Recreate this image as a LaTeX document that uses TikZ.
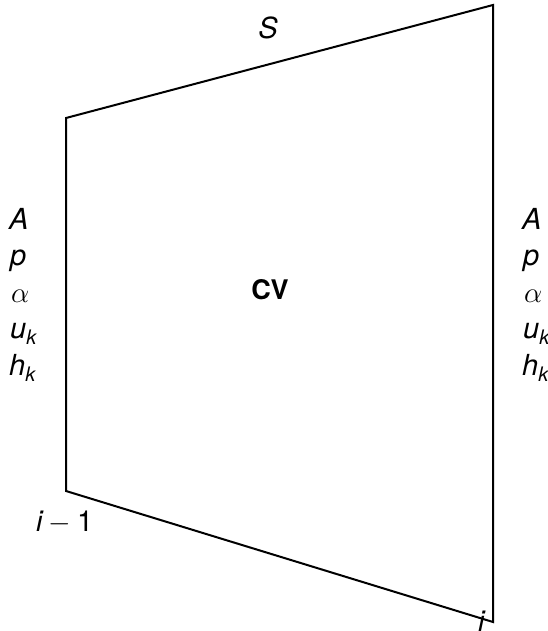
\RequirePackage{fix-cm}
\documentclass[tikz,border=0pt]{standalone}
\usepackage{amsmath}
\usepackage{fontspec}
\setmainfont{TeX Gyre Heros}
\newcommand\mysubk{\raisebox{-0.22em}{\fontsize{20}{20}\selectfont\itshape k}}
\begin{document}
\begin{tikzpicture}[x=1pt,y=-1pt,
  lbl/.style={font=\fontsize{29}{34}\selectfont\itshape, inner sep=0pt},
  col/.style={lbl, anchor=base west},
  edge/.style={line width=2pt, line join=miter}]
\useasboundingbox (0,0) rectangle (548,631);
\coordinate (tl) at (66,118);
\coordinate (bl) at (66,491);
\coordinate (tr) at (493,5);
\coordinate (br) at (493,622);
\draw[edge] (tl) -- (tr) -- (br) -- (bl) -- cycle;
\node[lbl] (S) at (268,28) {S};
\node[lbl, font=\fontsize{27}{32}\selectfont\bfseries] (cv) at (270,290) {CV};
\node[col] (lA) at (9,229) {A};
\node[col] (lp) at (10,265) {p};
\node[col] (la) at (11,302) {$\alpha$};
\node[col] (lu) at (10,338) {u\mysubk};
\node[col] (lh) at (9,375) {h\mysubk};
\node[col] (rA) at (522,229) {A};
\node[col] (rp) at (523,265) {p};
\node[col] (ra) at (524,302) {$\alpha$};
\node[col] (ru) at (523,338) {u\mysubk};
\node[col] (rh) at (522,375) {h\mysubk};
\node[col] (im1) at (36,531) {i\kern6pt\upshape$-$\kern6pt1};
\node[col] (ii) at (478,631) {i};
\end{tikzpicture}
\end{document}
